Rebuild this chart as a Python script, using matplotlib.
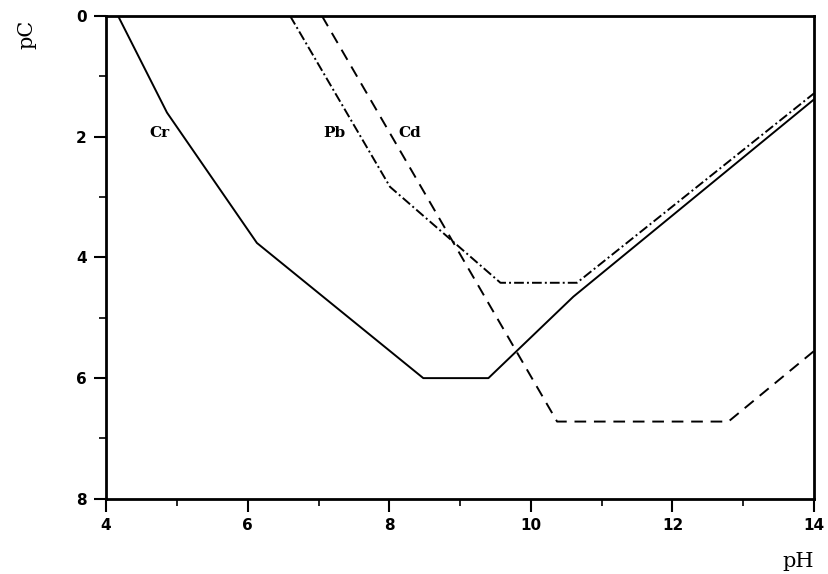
import numpy as np
import matplotlib
matplotlib.use("Agg")
from matplotlib import pyplot as plt

# pC-pH solubility curves
cr_ph = [4.17, 4.86, 6.13, 8.48, 9.40, 10.60, 14.00]
cr_pc = [0.00, 1.60, 3.76, 6.00, 6.00, 4.65, 1.38]

pb_ph = [6.60, 8.01, 9.57, 10.65, 14.00]
pb_pc = [0.00, 2.83, 4.42, 4.42, 1.28]

cd_ph = [7.05, 10.37, 12.79, 14.00]
cd_pc = [0.00, 6.72, 6.72, 5.55]

labels = ["Cr", "Pb", "Cd"]
label_ph = [4.75, 7.23, 8.29]
label_pc = [1.93, 1.93, 1.93]

x_ticks = [4, 6, 8, 10, 12, 14]
y_ticks = [0, 2, 4, 6, 8]

fig = plt.figure(figsize=(8.29, 5.74), dpi=100)
ax = fig.add_axes([0.128, 0.131, 0.854, 0.841])

lw = 1.4
ax.plot(cr_ph, cr_pc, color="black", lw=lw, linestyle="-")
ax.plot(pb_ph, pb_pc, color="black", lw=lw, linestyle=(0, (5, 1.6, 1, 1.6)))
ax.plot(cd_ph, cd_pc, color="black", lw=lw, linestyle=(0, (6, 4)))

for name, px, py in zip(labels, label_ph, label_pc):
    ax.text(px, py, name, ha="center", va="center", fontsize=11,
            fontweight="bold", family="DejaVu Serif")

ax.set_xlim(4, 14)
ax.set_ylim(8, 0)
ax.set_xticks(x_ticks)
ax.set_yticks(y_ticks)
ax.set_xticks(np.arange(5, 14, 2), minor=True)
ax.set_yticks(np.arange(1, 8, 2), minor=True)
ax.set_xticklabels([str(v) for v in x_ticks], fontsize=11, fontweight="bold")
ax.set_yticklabels([str(v) for v in y_ticks], fontsize=11, fontweight="bold")
ax.tick_params(axis="both", which="major", direction="out", length=9, width=1.5, pad=5)
ax.tick_params(axis="both", which="minor", direction="out", length=5, width=1.2)

for s in ax.spines.values():
    s.set_linewidth(2.0)

fig.text(0.033, 0.94, "pC", rotation=90, fontsize=15, family="DejaVu Serif",
         ha="center", va="center")
fig.text(0.963, 0.022, "pH", fontsize=15, family="DejaVu Serif",
         ha="center", va="center")

fig.savefig("out.png", dpi=100)
